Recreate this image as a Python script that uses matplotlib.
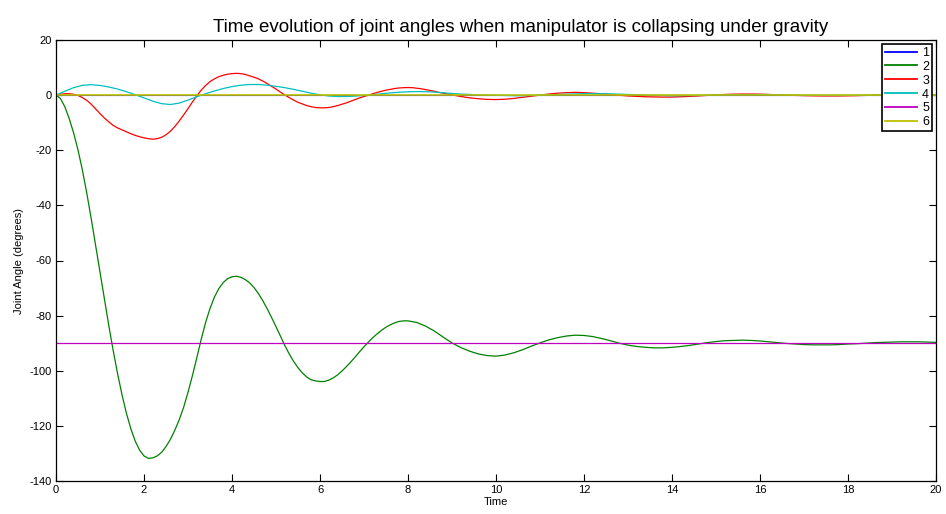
import matplotlib
matplotlib.use("Agg")
import matplotlib.pyplot as plt

plt.rcParams['font.family'] = ['Liberation Sans', 'DejaVu Sans']
plt.rcParams['axes.unicode_minus'] = False

# ---- Joint 2 (green): samples every 0.1 s up to 7.9 s, then every 0.2 s
t2 = [round(0.1 * i, 1) for i in range(80)] + [round(8 + 0.2 * i, 1) for i in range(61)]
q2 = [0, -1.2, -4.2, -8.5, -13.7, -19.9, -27.2, -35.6, -44.8, -54.4,
      -64.2, -74.0, -83.6, -92.7, -101.1, -108.7, -115.4, -121.0, -125.5, -128.8,
      -130.9, -131.8, -131.6, -130.9, -129.6, -127.5, -124.9, -121.6, -117.8, -113.3,
      -107.8, -101.8, -95.3, -88.6, -82.5, -77.4, -73.3, -70.2, -68.0, -66.6,
      -65.9, -65.7, -66.1, -66.9, -68.1, -69.8, -72.0, -74.6, -77.5, -80.7,
      -84.0, -87.4, -90.8, -93.9, -96.6, -98.9, -100.8, -102.3, -103.3, -103.7,
      -103.9, -103.9, -103.4, -102.6, -101.5, -100.1, -98.5, -96.8, -95.0, -93.1,
      -91.3, -89.6, -88.0, -86.6, -85.3, -84.2, -83.3, -82.6, -82.1, -81.9,
      -81.9, -82.5, -83.8, -85.6, -87.8,
      -89.9, -91.6, -92.9, -93.9, -94.5,
      -94.7, -94.3, -93.5, -92.4, -91.1,
      -89.9, -88.8, -88.0, -87.4, -87.1,
      -87.2, -87.6, -88.3, -89.1, -90.0,
      -90.7, -91.2, -91.5, -91.7, -91.7,
      -91.5, -91.2, -90.8, -90.3, -89.8,
      -89.4, -89.1, -89.0, -88.9, -89.0,
      -89.2, -89.5, -89.8, -90.1, -90.3,
      -90.5, -90.6, -90.6, -90.6, -90.5,
      -90.3, -90.2, -90.0, -89.8, -89.7,
      -89.6, -89.5, -89.5, -89.5, -89.6,
      -89.7]

# ---- Joint 3 (red): every 0.1 s up to 9.0 s, then every 0.2 s
t3 = [round(0.1 * i, 1) for i in range(91)] + [round(9.2 + 0.2 * i, 1) for i in range(55)]
q3 = [0, 0.3, 0.5, 0.5, 0.3, -0.1, -0.9, -1.9, -3.3, -5.0,
      -6.7, -8.3, -9.7, -11.0, -11.9, -12.6, -13.3, -14.0, -14.6, -15.1,
      -15.5, -15.8, -16.0, -15.8, -15.3, -14.4, -13.1, -11.4, -9.4, -7.2,
      -4.9, -2.5, -0.3, 1.8, 3.5, 4.9, 5.9, 6.7, 7.2, 7.6,
      7.8, 7.9, 7.8, 7.5, 7.0, 6.5, 5.9, 5.1, 4.2, 3.2,
      2.2, 1.1, 0.1, -0.9, -1.8, -2.6, -3.2, -3.8, -4.2, -4.5,
      -4.6, -4.6, -4.5, -4.2, -3.8, -3.3, -2.8, -2.2, -1.6, -1.0,
      -0.5, 0.0, 0.5, 1.0, 1.4, 1.8, 2.1, 2.4, 2.6, 2.7,
      2.75, 2.7, 2.5, 2.3, 2.0, 1.7, 1.4, 1.0, 0.7, 0.4,
      0.1,
      -0.5, -1.0, -1.3, -1.55, -1.6,
      -1.5, -1.2, -0.8, -0.4, 0.0,
      0.4, 0.7, 0.9, 1.0, 0.9,
      0.7, 0.45, 0.2, -0.05, -0.3,
      -0.45, -0.6, -0.68, -0.72, -0.7,
      -0.6, -0.45, -0.3, -0.1, 0.1,
      0.25, 0.35, 0.4, 0.4, 0.35,
      0.25, 0.1, 0.0, -0.1, -0.2,
      -0.25, -0.3, -0.3, -0.3, -0.25,
      -0.2, -0.1, 0.0, 0.05, 0.1,
      0.12, 0.15, 0.15, 0.12, 0.1]

# ---- Joint 4 (cyan): every 0.2 s up to 10 s, then every 0.5 s
t4 = [round(0.2 * i, 1) for i in range(51)] + [round(10.5 + 0.5 * i, 1) for i in range(20)]
q4 = [0, 1.4, 2.7, 3.55, 3.8,
      3.5, 2.95, 2.2, 1.25, 0.15,
      -1.0, -2.2, -3.1, -3.4, -2.9,
      -1.8, -0.6, 0.5, 1.5, 2.4,
      3.1, 3.6, 3.85, 3.85, 3.6,
      3.2, 2.7, 2.1, 1.4, 0.7,
      0.1, -0.3, -0.5, -0.5, -0.35,
      -0.1, 0.2, 0.5, 0.8, 1.05,
      1.2, 1.3, 1.25, 1.1, 0.85,
      0.6, 0.4, 0.25, 0.1, 0.03,
      -0.05,
      -0.25, -0.05, 0.3, 0.55, 0.5, 0.25, -0.05, -0.2, -0.15, 0.05,
      0.2, 0.2, 0.1, -0.05, -0.1, -0.1, 0.0, 0.05, 0.03, 0.0]

# ---- Joints 1, 5, 6 (constant)
t_const = [0, 20]
q1 = [0, 0]
q5 = [-90, -90]
q6 = [0, 0]

labels = ['1', '2', '3', '4', '5', '6']
colors = ['#0000ff', '#008000', '#ff0000', '#00bfbf', '#bf00bf', '#bfbf00']
widths = [0.8, 0.9, 0.9, 0.9, 0.9, 1.2]

fig = plt.figure(figsize=(9.46, 5.14), dpi=100)
ax = fig.add_axes([56/946, 1-481/514, 880/946, 441/514])

series = [(t_const, q1), (t2, q2), (t3, q3), (t4, q4), (t_const, q5), (t_const, q6)]
for (tt, qq), c, lab, w in zip(series, colors, labels, widths):
    ax.plot(tt, qq, color=c, lw=w, label=lab)

ax.set_xlim(0, 20)
ax.set_ylim(-140, 20)
ax.set_xticks(range(0, 21, 2))
ax.set_yticks(range(-140, 21, 20))
ax.tick_params(direction='in', length=5, width=0.8, top=True, right=True, labelsize=8,
               pad=3, colors='black')
for s in ax.spines.values():
    s.set_linewidth(0.9)

ax.set_title('Time evolution of joint angles when manipulator is collapsing under gravity',
             fontsize=13.5, pad=6, x=(521 - 56) / 880)
ax.set_xlabel('Time', fontsize=8, labelpad=1)
ax.set_ylabel('Joint Angle (degrees)', fontsize=8, labelpad=4)

leg = ax.legend(loc='upper right', fontsize=9, frameon=True, fancybox=False,
                edgecolor='black', framealpha=1, handlelength=2.6, handletextpad=0.4,
                labelspacing=0.15, borderpad=0.2, borderaxespad=0.35)
leg.get_frame().set_linewidth(1.2)
for h in leg.get_lines():
    h.set_linewidth(1.3)

fig.savefig('out.png', dpi=100)
